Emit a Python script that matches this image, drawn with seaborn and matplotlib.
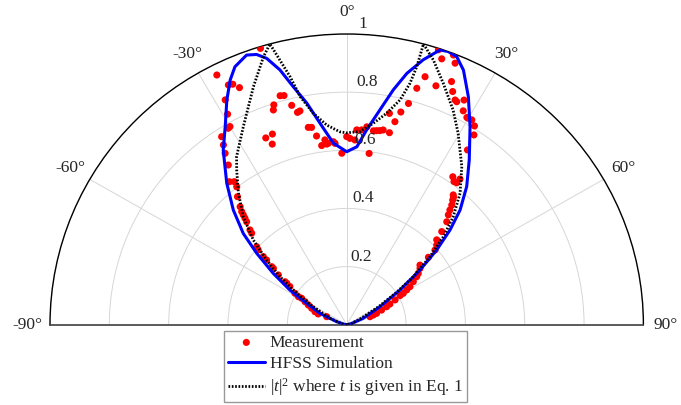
import numpy as np
import matplotlib
matplotlib.use("Agg")
import matplotlib.pyplot as plt
import matplotlib.transforms as mtransforms
import seaborn as sns

# ---------------- data (angles in degrees, radius normalised) ----------------
meas_theta = [-17.0, -27.0, -25.8, -24.9, -23.9, -27.9, -15.9, -15.0, -18.0, -13.8,
              -29.0, -12.8, -12.1, -30.0, -30.6, -18.5, -10.8, -9.9, -33.1, -23.0,
              -20.9, -22.0, -8.9, -6.6, -5.7, -7.8, -6.2, -4.1, -3.6, -33.9,
              -34.8, -1.6, 0.0, 1.0, 2.5, 2.9, 4.3, 5.7, 7.3, 7.7,
              8.6, 9.5, 10.4, 12.3, 11.2, 13.1, 14.0, 15.3, 16.2, 17.2,
              20.1, 18.1, 19.3, 21.2, 22.1, 22.9, 24.0, 25.3, 25.8, 27.1,
              28.1, 29.6, 30.0, 30.9, 32.2, 33.3, 34.1, 35.1, 36.3, 37.2,
              39.4, 37.3, -36.0, -38.8, -37.6, -38.0, -39.9, -41.5, -42.3, -42.7,
              -43.1, -43.6, -45.0, -45.5, -48.5, -49.2, -50.2, -50.5, -51.7, -51.9,
              -53.4, -54.6, -54.8, -55.6, -58.2, -59.4, -59.1, -60.6, -62.4, -64.4,
              -67.3, -69.0, -67.8, 70.7, 69.6, 68.8, 66.8, 65.3, 64.0, 62.4,
              60.9, 60.5, 59.4, 58.5, 56.6, 55.0, 53.8, 51.9, 50.3, 49.9,
              49.2, 47.9, 47.2, 46.1, 45.0, 43.6, 42.2, 41.4, 40.7, 39.8, 38.8]
meas_r = [0.994, 0.964, 0.916, 0.912, 0.892, 0.875, 0.819, 0.816, 0.795, 0.777,
          0.828, 0.749, 0.752, 0.787, 0.785, 0.779, 0.691, 0.689, 0.772, 0.698,
          0.702, 0.670, 0.657, 0.640, 0.627, 0.622, 0.625, 0.631, 0.625, 0.745,
          0.718, 0.590, 0.647, 0.641, 0.636, 0.671, 0.672, 0.684, 0.594, 0.673,
          0.675, 0.677, 0.681, 0.676, 0.741, 0.717, 0.754, 0.789, 0.847, 0.893,
          0.875, 0.995, 0.969, 0.995, 0.971, 0.908, 0.878, 0.855, 0.852, 0.868,
          0.834, 0.820, 0.820, 0.821, 0.808, 0.781, 0.726, 0.622, 0.611, 0.613,
          0.567, 0.630, 0.679, 0.631, 0.621, 0.602, 0.574, 0.542, 0.526, 0.514,
          0.502, 0.489, 0.461, 0.449, 0.405, 0.394, 0.366, 0.350, 0.322, 0.314,
          0.287, 0.255, 0.247, 0.232, 0.205, 0.189, 0.177, 0.161, 0.146, 0.131,
          0.116, 0.103, 0.073, 0.083, 0.096, 0.108, 0.128, 0.148, 0.162, 0.184,
          0.206, 0.219, 0.235, 0.250, 0.269, 0.288, 0.299, 0.314, 0.321, 0.360,
          0.393, 0.409, 0.421, 0.421, 0.453, 0.489, 0.510, 0.526, 0.543, 0.558, 0.573]

hfss_theta = [-90, -80, -73, -66.6, -61.4, -58.1, -54.5, -51.0, -48.0, -44.1,
              -39.7, -34.7, -31.0, -27.6, -25.0, -23.0, -20.0, -18.1, -16.4, -14.4,
              -12.4, -10.0, -7.4, -4.1, 0.0, 3.2, 5.7, 8.6, 11.0, 13.2,
              15.8, 18.4, 20.0, 21.9, 24.2, 27.6, 31.4, 36.1, 40.4, 44.1,
              46.9, 49.7, 52.7, 56.4, 61.1, 68.6, 78, 90]
hfss_r = [0.0, 0.01, 0.035, 0.098, 0.154, 0.225, 0.304, 0.390, 0.469, 0.549,
          0.633, 0.731, 0.795, 0.872, 0.929, 0.964, 0.987, 0.978, 0.955, 0.905,
          0.838, 0.774, 0.699, 0.626, 0.595, 0.613, 0.673, 0.747, 0.823, 0.888,
          0.947, 0.996, 1.0, 0.994, 0.960, 0.885, 0.798, 0.701, 0.624, 0.549,
          0.477, 0.398, 0.311, 0.216, 0.128, 0.060, 0.015, 0.0]

t2_theta = [-90, -80, -68.7, -61.2, -57.3, -53.7, -50.5, -47.2, -43.2, -38.9,
            -34.9, -32.7, -27.1, -21.0, -16.9, -15.0, -13.9, -12.6, -11.3, -8.8,
            -5.6, -2.0, 0.0, 3.9, 7.4, 10.5, 13.1, 14.4, 14.9, 15.0,
            17.8, 21.4, 25.9, 29.7, 35.5, 40.2, 44.0, 47.1, 50.2, 53.7,
            56.5, 60.0, 66.0, 78, 90]
t2_r = [0.0, 0.015, 0.060, 0.128, 0.200, 0.279, 0.350, 0.429, 0.509, 0.581,
        0.648, 0.687, 0.765, 0.877, 0.964, 1.0, 0.938, 0.874, 0.800, 0.736,
        0.690, 0.664, 0.660, 0.666, 0.699, 0.740, 0.794, 0.857, 0.918, 1.0,
        0.956, 0.892, 0.821, 0.758, 0.668, 0.592, 0.517, 0.445, 0.365, 0.279,
        0.200, 0.125, 0.050, 0.015, 0.0]

theta_ticks = [-90, -60, -30, 0, 30, 60, 90]
theta_labels = ["-90°", "-60°", "-30°", "0°", "30°", "60°", "90°"]
r_ticks = [0.2, 0.4, 0.6, 0.8, 1.0]
r_labels = ["0.2", "0.4", "0.6", "0.8", "1"]

legend_labels = ["Measurement", "HFSS Simulation", r"$|t|^2$ where $t$ is given in Eq. 1"]

# ---------------- style ----------------
sns.set_style("white")
plt.rcParams["font.family"] = ["Liberation Serif", "DejaVu Serif"]
plt.rcParams["mathtext.fontset"] = "custom"
plt.rcParams["mathtext.rm"] = "Liberation Serif"
plt.rcParams["mathtext.it"] = "Liberation Serif:italic"
FS = 12.5

W, H = 681, 405
fig = plt.figure(figsize=(W / 100, H / 100), dpi=100)
cx, cy, Rx, Ry = 346.7, 324.7, 296.7, 290.7
ax = fig.add_axes([(cx - Rx) / W, (H - (cy + 0.5 * Ry)) / H, 2 * Rx / W, 2 * Ry / H],
                  projection="polar")
ax.set_aspect("auto")

ax.set_theta_zero_location("N")
ax.set_theta_direction(-1)
ax.set_thetamin(-90)
ax.set_thetamax(90)
ax.set_rlim(0, 1)

sns.scatterplot(x=np.deg2rad(meas_theta), y=meas_r, ax=ax, color="#ff0000", s=26,
                edgecolor="none", linewidth=0, label=legend_labels[0], zorder=3)
sns.lineplot(x=np.deg2rad(hfss_theta), y=hfss_r, ax=ax, color="#0000ff", lw=2.2,
             estimator=None, sort=False, label=legend_labels[1], zorder=4)
sns.lineplot(x=np.deg2rad(t2_theta), y=t2_r, ax=ax, color="black", lw=2.0,
             estimator=None, sort=False, label=legend_labels[2], zorder=5,
             linestyle=(0, (0.6, 0.6)))

ax.set_thetagrids(theta_ticks, labels=theta_labels, fontsize=FS)
ax.set_rgrids(r_ticks, labels=[""] * len(r_ticks))
ax.grid(True, color="#d6d6d6", lw=0.7)
ax.tick_params(axis="x", direction="in", length=4, width=0.9, color="black", pad=9)
ax.tick_params(axis="y", length=0)
ax.spines["polar"].set_color("black")
ax.spines["polar"].set_linewidth(1.0)
for s in ("start", "end"):
    ax.spines[s].set_color("#404040")
    ax.spines[s].set_linewidth(1.2)
ax.spines["inner"].set_visible(False)
ax.set_xlabel("")
ax.set_ylabel("")

# radial labels placed along the 0° line
for rv, lab in zip(r_ticks, r_labels):
    off = mtransforms.ScaledTranslation(0.012, 0.06, fig.dpi_scale_trans)
    ax.text(np.deg2rad(2.1), rv, lab, transform=ax.transData + off,
            ha="left", va="baseline", fontsize=FS, clip_on=False, zorder=6)

handles, labels = ax.get_legend_handles_labels()
if ax.get_legend() is not None:
    ax.get_legend().remove()
leg = fig.legend(handles, labels, loc="upper center",
                 bbox_to_anchor=(345.5 / W, 1 - 331 / H), fontsize=FS,
                 frameon=True, fancybox=False, edgecolor="#808080",
                 handlelength=2.1, handletextpad=0.3, borderpad=0.22,
                 labelspacing=0.27, borderaxespad=0)
leg.get_frame().set_linewidth(1.0)

fig.savefig("out.png", dpi=100)
